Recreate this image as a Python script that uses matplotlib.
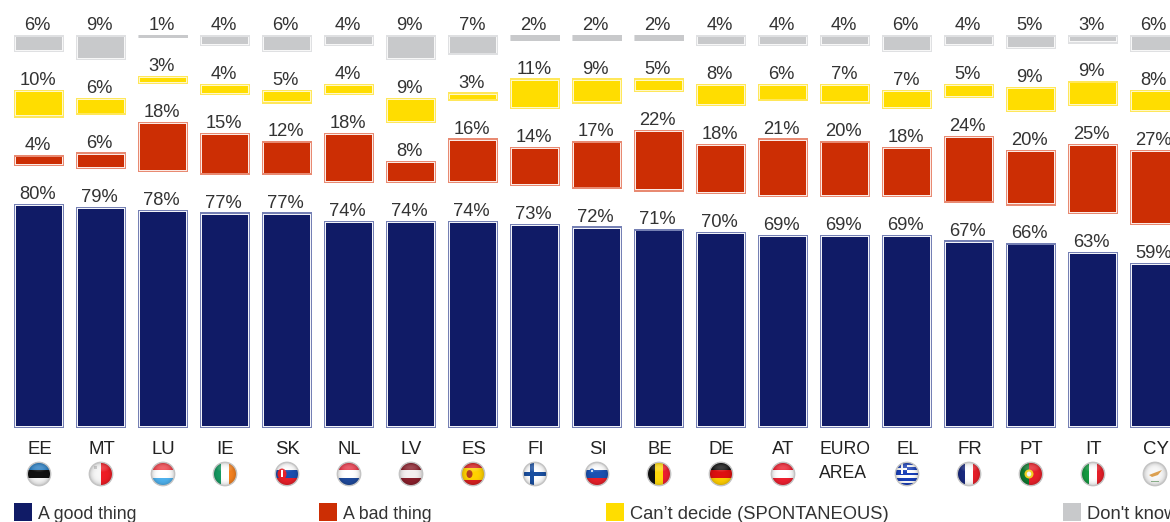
import numpy as np
import matplotlib
matplotlib.use("Agg")
import matplotlib.pyplot as plt
from matplotlib.patches import Rectangle, Ellipse, Polygon

plt.rcParams['font.family'] = ['Liberation Sans', 'DejaVu Sans']

categories = ["EE", "MT", "LU", "IE", "SK", "NL", "LV", "ES", "FI", "SI", "BE", "DE", "AT",
              "EURO\nAREA", "EL", "FR", "PT", "IT", "CY"]
good = [80, 79, 78, 77, 77, 74, 74, 74, 73, 72, 71, 70, 69, 69, 69, 67, 66, 63, 59]
bad = [4, 6, 18, 15, 12, 18, 8, 16, 14, 17, 22, 18, 21, 20, 18, 24, 20, 25, 27]
cant = [10, 6, 3, 4, 5, 4, 9, 3, 11, 9, 5, 8, 6, 7, 7, 5, 9, 9, 8]
dont = [6, 9, 1, 4, 6, 4, 9, 7, 2, 2, 2, 4, 4, 4, 6, 4, 5, 3, 6]
series_names = ["A good thing", "A bad thing", "Can\u2019t decide (SPONTANEOUS)", "Don't know"]
series_colors = ["#101b66", "#cc2e04", "#ffdd00", "#c8c9cb"]
series_tints = ["#7580b4", "#e88a72", "#ffe75a", "#dfe0e2"]
inner_lines = ["#f2f3f8", "#fbeae5", "#fff8c8", "#f7f7f7"]
legend_px = [14, 319, 606, 1063]
legend_fs = [12.8, 12.8, 13.2, 13.2]

flags = {
    "EE": ("h", ["#2a7fc4", "#111111", "#f4f4f4"]),
    "MT": ("v", ["#f6f6f6", "#ee1c25"]),
    "LU": ("h", ["#f0424a", "#ffffff", "#4fb2ee"]),
    "IE": ("v", ["#169b62", "#ffffff", "#f58220"]),
    "SK": ("h", ["#ffffff", "#1a4fb0", "#e8202a"]),
    "NL": ("h", ["#e8384a", "#ffffff", "#1f4a9c"]),
    "LV": ("h", ["#8a1f2b", "#f4f0f0", "#8a1f2b"]),
    "ES": ("h", ["#d8201f", "#ffd200", "#ffd200", "#d8201f"]),
    "FI": ("h", ["#ffffff"]),
    "SI": ("h", ["#ffffff", "#1a50b0", "#e8202a"]),
    "BE": ("v", ["#111111", "#ffd90c", "#ee2030"]),
    "DE": ("h", ["#111111", "#dd1010", "#ffce00"]),
    "AT": ("h", ["#ee2030", "#ffffff", "#ee2030"]),
    "EL": ("h", ["#1a40b8", "#ffffff", "#1a40b8", "#ffffff", "#1a40b8", "#ffffff", "#1a40b8", "#ffffff", "#1a40b8"]),
    "FR": ("v", ["#1a2a80", "#ffffff", "#e8202a"]),
    "PT": ("v", ["#0f7a30", "#0f7a30", "#e8202a", "#e8202a", "#e8202a"]),
    "IT": ("v", ["#169b42", "#ffffff", "#e8202a"]),
    "CY": ("h", ["#f7f7f7"]),
}

W, H = 1170, 522
PITCH, X0, Y0, SCALE = 62.0, 39.0, 428.0, 2.8
GAP = 37.6 / SCALE
BAR_PX = 50.0
FS = 13.2

fig = plt.figure(figsize=(W / 100, H / 100), dpi=100, facecolor="white")
ax = fig.add_axes([0, 0, 1, 1])
ax.set_xlim(-X0 / PITCH, (W - X0) / PITCH)
ax.set_ylim(-(H - Y0) / SCALE, Y0 / SCALE)
ax.axis("off")


def dx(px):
    return px / PITCH


def dy(px):
    return px / SCALE


xpos = np.arange(len(categories))
bottom = np.zeros(len(categories))
for vals, col, tint, inner in zip([good, bad, cant, dont], series_colors, series_tints, inner_lines):
    vals = np.array(vals, dtype=float)
    thin = vals <= 2
    # outer tinted frame, thin pale line, then the solid fill
    ax.bar(xpos, vals, dx(BAR_PX), bottom, color=tint, linewidth=0, zorder=2)
    ins1, ins2 = 1.4, 2.2
    h1 = np.where(thin, 0, np.maximum(vals - 2 * dy(ins1), 0))
    ax.bar(xpos, h1, dx(BAR_PX - 2 * ins1), bottom + (vals - h1) / 2, color=inner, linewidth=0, zorder=3)
    h2 = np.where(thin, vals, vals - 2 * dy(ins2))
    w2 = np.where(thin, BAR_PX - 1.0, BAR_PX - 2 * ins2)
    ax.bar(xpos, h2, dx(w2), bottom + (vals - h2) / 2, color=col, linewidth=0, zorder=4)
    for x, b, v in zip(xpos, bottom, vals):
        ax.text(x - dx(1.2), b + v + dy(0.9), f"{int(v)}%", ha="center", va="bottom",
                fontsize=FS, color="#333333", zorder=5)
    bottom = bottom + vals + GAP

# Category labels
for x, lab in zip(xpos, categories):
    if "\n" in lab:
        a, b = lab.split("\n")
        ax.text(x, dy(Y0 - 450), a, ha="center", va="center", fontsize=12.7, color="#222222")
        ax.text(x - dx(2), dy(Y0 - 473), b, ha="center", va="center", fontsize=12.7, color="#222222")
    else:
        ax.text(x + dx(0.5), dy(Y0 - 449), lab, ha="center", va="center", fontsize=13.4, color="#222222")

# Gloss used on all flags
yy, xx = np.mgrid[-1:1:48j, -1:1:48j]
gloss = np.zeros((48, 48, 4))
gloss[..., 3] = 0.22 * np.clip(xx ** 2 + yy ** 2, 0, 1) ** 2
gloss_w = np.ones((48, 48, 4))
gloss_w[..., 3] = 0.2 * np.clip(1 - ((xx / 0.8) ** 2 + ((yy + 0.55) / 0.4) ** 2), 0, 1)

R = 11.7
FY = Y0 - 474
for x, lab in zip(xpos, categories):
    if lab not in flags:
        continue
    orient, cols = flags[lab]
    rgb = np.array([matplotlib.colors.to_rgb(c) for c in cols])
    img = rgb[:, None, :] if orient == "h" else rgb[None, :, :]
    ext = (x - dx(R), x + dx(R), dy(FY - R), dy(FY + R))
    clip = Ellipse((x, dy(FY)), 2 * dx(R), 2 * dy(R), transform=ax.transData)
    im = ax.imshow(img, extent=ext, aspect="auto", origin="upper", interpolation="nearest", zorder=6)
    im.set_clip_path(clip)
    extras = []
    if lab == "FI":
        extras += [Rectangle((x - dx(R), dy(FY - 2)), dx(2 * R), dy(4), color="#1a4fa0"),
                   Rectangle((x - dx(5), dy(FY - R)), dx(4), dy(2 * R), color="#1a4fa0")]
    if lab == "EL":
        extras += [Rectangle((x - dx(R), dy(FY)), dx(R), dy(R), color="#1a40b8"),
                   Rectangle((x - dx(R), dy(FY + 4)), dx(R), dy(2), color="white"),
                   Rectangle((x - dx(6.5), dy(FY)), dx(2), dy(R), color="white")]
    if lab == "SK":
        extras += [Ellipse((x - dx(5), dy(FY)), dx(9), dy(11), color="#e8202a"),
                   Rectangle((x - dx(5.7), dy(FY - 3)), dx(1.4), dy(7), color="white")]
    if lab == "SI":
        extras += [Ellipse((x - dx(5), dy(FY + 3)), dx(5), dy(5), color="#2060c0"),
                   Ellipse((x - dx(5), dy(FY + 3)), dx(2), dy(2), color="white")]
    if lab == "ES":
        extras += [Ellipse((x - dx(3.5), dy(FY)), dx(6), dy(8), color="#b8421a")]
    if lab == "PT":
        extras += [Ellipse((x - dx(2), dy(FY)), dx(9), dy(9), color="#f0d020"),
                   Ellipse((x - dx(2), dy(FY)), dx(4.5), dy(5), color="#f5f5f5")]
    if lab == "CY":
        extras += [Polygon([(x - dx(6), dy(FY - 1)), (x - dx(1), dy(FY + 1)), (x + dx(7), dy(FY + 4)),
                            (x + dx(3), dy(FY - 1)), (x - dx(3), dy(FY - 3))], color="#dca050"),
                   Rectangle((x - dx(4), dy(FY - 8)), dx(8), dy(1.5), color="#8fb58f")]
    if lab == "MT":
        extras += [Rectangle((x - dx(7), dy(FY + 5)), dx(3), dy(3), color="#c8c8c8")]
    for p in extras:
        ax.add_patch(p)
        p.set_zorder(7)
        p.set_linewidth(0)
        p.set_clip_path(clip)
    g = ax.imshow(gloss, extent=ext, aspect="auto", zorder=8)
    g.set_clip_path(clip)
    g2 = ax.imshow(gloss_w, extent=ext, aspect="auto", zorder=8)
    g2.set_clip_path(clip)
    ax.add_patch(Ellipse((x, dy(FY)), 2 * dx(R), 2 * dy(R), fc="none", ec="#c4c4c4", lw=1.0, zorder=9))

ax.set_xlim(-X0 / PITCH, (W - X0) / PITCH)
ax.set_ylim(-(H - Y0) / SCALE, Y0 / SCALE)

# Legend
for name, col, lx, fs in zip(series_names, series_colors, legend_px, legend_fs):
    ax.add_patch(Rectangle((dx(lx - X0), dy(Y0 - 521)), dx(17.5), dy(18), fc=col, ec="none", zorder=5))
    ax.text(dx(lx + 24 - X0), dy(Y0 - 514.5), name, ha="left", va="center", fontsize=fs, color="#333333")

fig.savefig("out.png", dpi=100, facecolor="white")
